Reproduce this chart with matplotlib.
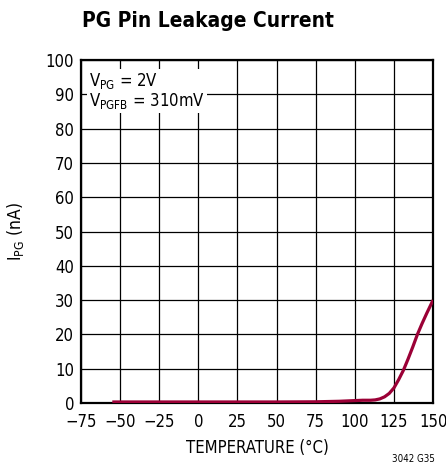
import numpy as np
import matplotlib.pyplot as plt

# leakage current vs temperature
temp = [-55, -25, 0, 25, 50, 75, 90, 100, 105, 110, 113, 116, 119, 122, 125,
        128, 131, 134, 137, 140, 143, 146, 150]
ipg = [0.3, 0.3, 0.3, 0.3, 0.3, 0.35, 0.5, 0.7, 0.8, 0.8, 0.9, 1.2, 1.8, 2.8, 4.4,
       6.8, 9.5, 12.8, 16.3, 20.0, 23.2, 26.2, 30.0]

xticks = [-75, -50, -25, 0, 25, 50, 75, 100, 125, 150]
xlabels = ['\u221275', '\u221250', '\u221225', '0', '25', '50', '75', '100', '125', '150']
yticks = np.arange(0, 101, 10)

plt.rcParams['font.family'] = ['DejaVu Sans']
plt.rcParams['font.stretch'] = 'condensed'

fig = plt.figure(figsize=(4.46, 4.73), dpi=100)
ax = fig.add_axes([0.1816, 0.148, 0.7894, 0.725])

ax.plot(temp, ipg, color='#9b0036', lw=2.3, solid_capstyle='butt', zorder=3)

ax.set_xlim(-75, 150)
ax.set_ylim(0, 100)
ax.set_xticks(xticks)
ax.set_xticklabels(xlabels)
ax.set_yticks(yticks)
ax.tick_params(length=0, labelsize=12, pad=5)
ax.tick_params(axis='x', pad=7)
ax.grid(True, color='black', lw=0.9)
for s in ax.spines.values():
    s.set_linewidth(1.6)

ax.set_xlabel('TEMPERATURE (\u00b0C)', fontsize=12, labelpad=6)
ax.set_ylabel('I$_{\\mathregular{PG}}$ (nA)', fontsize=12.5, labelpad=14)

ax.text(-70, 96.8, 'V$_{\\mathregular{PG}}$ = 2V\nV$_{\\mathregular{PGFB}}$ = 310mV',
        fontsize=12, va='top', ha='left', linespacing=1.0,
        bbox=dict(facecolor='white', edgecolor='none', pad=1.5), zorder=4)

fig.text(0.184, 0.956, 'PG Pin Leakage Current', fontsize=15, fontweight='bold',
         ha='left', va='center')
fig.text(0.975, 0.02, '3042 G35', fontsize=7, ha='right', va='bottom')

fig.savefig('out.png', dpi=100)
